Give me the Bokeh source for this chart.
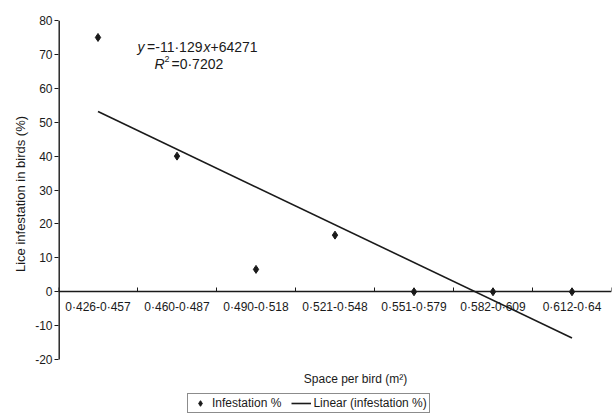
from bokeh.plotting import figure
from bokeh.models import (LinearAxis, FixedTicker, Legend, LegendItem, Range1d)
from bokeh.core.properties import value
from bokeh.embed import file_html
from bokeh.resources import INLINE

# ---- data ----
categories = ["0·426-0·457", "0·460-0·487", "0·490-0·518", "0·521-0·548",
              "0·551-0·579", "0·582-0·609", "0·612-0·64"]
infestation = [75, 40, 6.6, 16.7, 0, 0, 0]
slope = -11.129
intercept = 64.271
r_squared = "0·7202"
y_ticks = [-20, -10, 0, 10, 20, 30, 40, 50, 60, 70, 80]
x_title = "Space per bird (m²)"
y_title = "Lice infestation in birds (%)"

FONT = "Liberation Sans"
INK = "#1a1a1a"

xs = list(range(1, len(categories) + 1))
boundaries = [i + 0.5 for i in range(0, len(categories) + 1)]
y_bottom = y_ticks[0] - 16.2   # room below the axis for the title and legend

p = figure(width=613, height=414, x_range=Range1d(0.5, len(categories) + 0.5),
           y_range=Range1d(y_bottom, y_ticks[-1]),
           output_backend="svg", toolbar_location=None,
           min_border_top=20, min_border_left=58, min_border_right=2,
           min_border_bottom=0)
p.outline_line_color = None
p.grid.visible = False
p.background_fill_color = "white"
p.border_fill_color = "white"

# x axis with tick marks at category boundaries, crossing at y=0
xa = p.xaxis[0]
xa.ticker = FixedTicker(ticks=boundaries)
xa.fixed_location = 0
xa.major_label_text_color = None
xa.major_tick_in = 4
xa.major_tick_out = 0
xa.minor_tick_line_color = None
xa.axis_line_color = INK
xa.major_tick_line_color = INK
xa.axis_line_width = 1.3

# second axis carrying the category labels at centres
la = LinearAxis(ticker=FixedTicker(ticks=xs),
                major_label_overrides={x: c for x, c in zip(xs, categories)},
                fixed_location=0, axis_line_color=None, major_tick_line_color=None,
                major_tick_in=0, major_tick_out=0,
                minor_tick_line_color=None, major_label_standoff=8,
                major_label_text_font=FONT, major_label_text_font_size="12px",
                major_label_text_color=INK)
p.add_layout(la, "below")

ya = p.yaxis[0]
ya.ticker = FixedTicker(ticks=y_ticks)
ya.major_label_overrides = {v: str(v) for v in y_ticks}
ya.major_tick_in = 0
ya.major_tick_out = 4
ya.minor_tick_line_color = None
ya.axis_line_color = None
ya.major_tick_line_color = INK
ya.major_label_text_font = FONT
ya.major_label_text_font_size = "12px"
ya.major_label_text_color = INK
ya.major_label_standoff = 2
# leading no-break spaces keep the title centred on the -20..80 span
ya.axis_label = "\u00a0" * 13 + y_title
ya.axis_label_text_font = FONT
ya.axis_label_text_font_size = "13px"
ya.axis_label_text_font_style = "normal"
ya.axis_label_text_color = INK
ya.axis_label_standoff = 4

# visible y axis line only over the tick span
p.segment(x0=[0.5], y0=[y_ticks[0]], x1=[0.5], y1=[y_ticks[-1]],
          line_color=INK, line_width=2.8)

pts = p.scatter(xs, infestation, marker="diamond", size=8, color=INK)
trend_x = [xs[0], xs[-1]]
trend_y = [slope * x + intercept for x in trend_x]
trend = p.line(trend_x, trend_y, line_color=INK, line_width=1.6)

# equation annotation
ex, ey1, ey2 = 2.335, 72.3, 67.2
def t(txt, y, dx, style="normal", size="14px", dy=0, align="left"):
    p.text(x=[ex], y=[y], text=[txt], x_offset=dx, y_offset=dy,
           text_font=value(FONT), text_font_size=size, text_font_style=style,
           text_color=INK, text_align=align, text_baseline="middle")

slope_txt = f"{slope:.3f}".replace(".", "·")
t("y", ey1, -66, "italic")
t("=" + slope_txt, ey1, -1, "normal", align="right")
t("x", ey1, 0, "italic")
t("+" + str(int(round(intercept * 1000))), ey1, 7, "normal")
t("R", ey2, -49, "italic")
t("2", ey2, -39, "normal", "9px", -5)
t("=" + r_squared, ey2, -32, "normal")

# x axis title
p.text(x=[4.259], y=[-25.6], text=[x_title], text_font=value(FONT),
       text_font_size="12px", text_color=INK, text_align="center",
       text_baseline="middle")

legend = Legend(items=[LegendItem(label="Infestation %", renderers=[pts]),
                       LegendItem(label="Linear (infestation %)", renderers=[trend])],
                orientation="horizontal", location=(129, 1),
                border_line_color=INK, border_line_width=1.3,
                padding=2, spacing=10, glyph_width=20, glyph_height=14,
                label_standoff=2, label_text_font=FONT, label_text_font_size="12px",
                label_text_color=INK, label_height=14, margin=0,
                background_fill_alpha=1)
p.add_layout(legend, "center")

open("out.html", "w").write(file_html(p, INLINE))
